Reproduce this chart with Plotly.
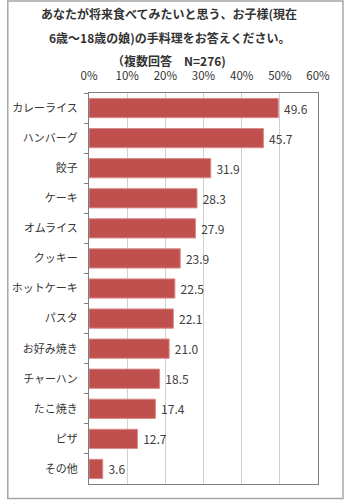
import plotly.graph_objects as go

categories = ["カレーライス", "ハンバーグ", "餃子", "ケーキ", "オムライス", "クッキー",
              "ホットケーキ", "パスタ", "お好み焼き", "チャーハン", "たこ焼き", "ピザ", "その他"]
values = [49.6, 45.7, 31.9, 28.3, 27.9, 23.9, 22.5, 22.1, 21.0, 18.5, 17.4, 12.7, 3.6]
tick_vals = [0, 10, 20, 30, 40, 50, 60]
tick_text = ["0%", "10%", "20%", "30%", "40%", "50%", "60%"]
title_lines = ["あなたが将来食べてみたいと思う、お子様(現在",
               "6歳～18歳の娘)の手料理をお答えください。",
               "（複数回答　N=276)"]

FONT = "Noto Sans CJK JP"

fig = go.Figure(go.Bar(
    x=values, y=categories, orientation="h",
    marker=dict(color="#C0504D", line=dict(color="#D88C8A", width=1)),
    width=0.64,
    text=values, texttemplate="\u00a0%{x:.1f}", textposition="outside",
    textfont=dict(size=12, color="#404040", family=FONT),
    cliponaxis=False,
))

L, R, T, B = 84, 27, 93, 16
W, H = 345, 500
pw, ph = W - L - R, H - T - B

def px_x(p):
    return (p - L) / pw

def px_y(p):
    return (H - B - p) / ph

fig.update_layout(
    width=W, height=H,
    margin=dict(l=L, r=R, t=T, b=B),
    paper_bgcolor="white", plot_bgcolor="white",
    font=dict(family=FONT, size=11, color="#333333"),
    showlegend=False,
    xaxis=dict(side="top", range=[0, 60], tickvals=tick_vals, ticktext=tick_text,
               showgrid=True, gridcolor="#D0D0D0", gridwidth=1,
               showline=True, linecolor="#7F7F7F", linewidth=1, mirror=True,
               zeroline=False, ticks="", ticklabelstandoff=7,
               tickfont=dict(size=11.5, color="#333333", family=FONT), fixedrange=True),
    yaxis=dict(autorange="reversed", showgrid=False,
               showline=True, linecolor="#7F7F7F", linewidth=1, mirror=True,
               ticks="outside", tickson="boundaries", ticklen=4, tickcolor="#7F7F7F",
               ticklabelstandoff=8,
               tickfont=dict(size=11, color="#333333", family=FONT), fixedrange=True),
    bargap=0.36,
)

annotations = []
for i, (line, ypx) in enumerate(zip(title_lines, [14, 38, 60])):
    annotations.append(dict(
        text="<b>" + line + "</b>", x=px_x(166), y=px_y(ypx), xref="paper", yref="paper",
        showarrow=False, xanchor="center", yanchor="middle",
        font=dict(size=12, color="#333333", family=FONT)))
fig.update_layout(annotations=annotations)

fig.add_shape(type="rect", xref="paper", yref="paper",
              x0=px_x(1), x1=px_x(343.5), y0=px_y(498.5), y1=px_y(1),
              line=dict(color="#A6A6A6", width=1.5), layer="below")

fig.write_html("out.html")
